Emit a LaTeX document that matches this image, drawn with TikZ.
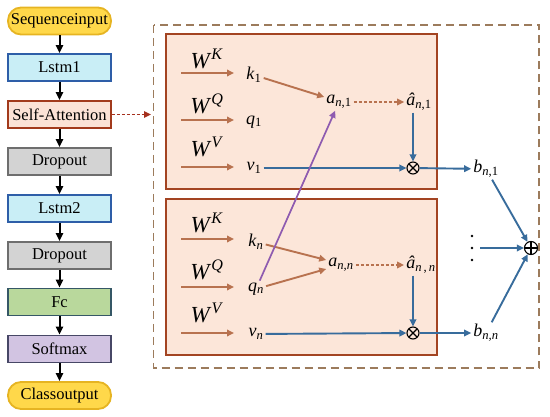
\documentclass[tikz,border=0pt]{standalone}
\usepackage{fontspec}
\setmainfont{Liberation Serif}
\usetikzlibrary{arrows.meta}
\definecolor{yfill}{HTML}{FFD84A}
\definecolor{ydraw}{HTML}{E6B422}
\definecolor{cfill}{HTML}{C9EEF6}
\definecolor{cdraw}{HTML}{2E5EA8}
\definecolor{pfill}{HTML}{FBE2D6}
\definecolor{pdraw}{HTML}{A23A1C}
\definecolor{gfill}{HTML}{D3D3D3}
\definecolor{gdraw}{HTML}{6E6E6E}
\definecolor{grfill}{HTML}{B9D89C}
\definecolor{grdraw}{HTML}{355766}
\definecolor{lfill}{HTML}{D2C4E2}
\definecolor{ldraw}{HTML}{474766}
\definecolor{boxfill}{HTML}{FCE6D9}
\definecolor{boxdraw}{HTML}{A34422}
\definecolor{outer}{HTML}{9C7B5C}
\definecolor{brn}{HTML}{B8724F}
\definecolor{blu}{HTML}{386C9C}
\definecolor{pur}{HTML}{8E5BB0}
\definecolor{dred}{HTML}{A5301E}
\begin{document}
\begin{tikzpicture}[x=1pt,y=-1pt,
  lbox/.style={draw, line width=1.8pt, minimum width=103pt, minimum height=27pt, inner sep=0pt, font=\fontsize{16.5}{17}\selectfont},
  term/.style={lbox, rounded corners=13pt, fill=yfill, draw=ydraw},
  blk/.style={-{Triangle[length=8pt,width=7pt]}, line width=2pt, black},
  barr/.style={-{Triangle[length=7pt,width=6.5pt]}, line width=1.9pt, brn},
  bluarr/.style={-{Triangle[length=7pt,width=6.5pt]}, line width=1.9pt, blu},
  dasharr/.style={brn, line width=1.7pt, dash pattern=on 3pt off 2pt, -{Triangle[length=7pt,width=6.5pt]}},
  lbl/.style={font=\fontsize{18}{19}\selectfont, inner sep=2pt},
  wlbl/.style={font=\fontsize{23}{24}\selectfont, inner sep=0pt},
  otim/.style={circle, draw, line width=1.1pt, minimum size=12pt, inner sep=0pt,
    path picture={\draw[line width=1.1pt] (path picture bounding box.north west) -- (path picture bounding box.south east)
      (path picture bounding box.north east) -- (path picture bounding box.south west);}},
  oplu/.style={circle, draw, line width=1.1pt, minimum size=13pt, inner sep=0pt,
    path picture={\draw[line width=1.1pt] (path picture bounding box.north) -- (path picture bounding box.south)
      (path picture bounding box.east) -- (path picture bounding box.west);}}
]
\useasboundingbox (0,0) rectangle (550,417);

% left column
\node[term] (seq) at (59.5,21) {Sequenceinput};
\node[lbox, fill=cfill, draw=cdraw] (l1) at (59.5,67.5) {Lstm1};
\node[lbox, fill=pfill, draw=pdraw] (sa) at (59.5,114.5) {Self-Attention};
\node[lbox, fill=gfill, draw=gdraw] (d1) at (59.5,161.5) {Dropout};
\node[lbox, fill=cfill, draw=cdraw] (l2) at (59.5,208.5) {Lstm2};
\node[lbox, fill=gfill, draw=gdraw] (d2) at (59.5,255.5) {Dropout};
\node[lbox, fill=grfill, draw=grdraw] (fc) at (59.5,302) {Fc};
\node[lbox, fill=lfill, draw=ldraw] (sm) at (59.5,349) {Softmax};
\node[term] (co) at (59.5,395.5) {Classoutput};
\draw[blk] (seq) -- (l1);
\draw[blk] (l1) -- (sa);
\draw[blk] (sa) -- (d1);
\draw[blk] (d1) -- (l2);
\draw[blk] (l2) -- (d2);
\draw[blk] (d2) -- (fc);
\draw[blk] (fc) -- (sm);
\draw[blk] (sm) -- (co);

% outer dashed box
\draw[outer, line width=1.9pt, dash pattern=on 8pt off 5pt] (153.5,25) rectangle (539,368);
\coordinate (outL) at (151,114.5);
\draw[dred, line width=1.5pt, dash pattern=on 3pt off 2pt, -{Triangle[length=7pt,width=6.5pt]}] (sa.east) -- (outL);

% inner boxes
\draw[boxdraw, fill=boxfill, line width=1.8pt] (166,34) rectangle (437,189);
\draw[boxdraw, fill=boxfill, line width=1.8pt] (166,199) rectangle (437,355);

% upper box
\node[wlbl] (wk1) at (207,59) {\textit{W}\textsuperscript{\textit{K}}};
\node[wlbl] (wq1) at (207,104) {\textit{W}\textsuperscript{\textit{Q}}};
\node[wlbl] (wv1) at (207,147) {\textit{W}\textsuperscript{\textit{V}}};
\node[lbl] (k1) at (254,75) {\textit{k}\textsubscript{1}};
\node[lbl] (q1) at (254,122) {\textit{q}\textsubscript{1}};
\node[lbl] (v1) at (254,168) {\textit{v}\textsubscript{1}};
\coordinate (sk1) at (181,73);
\coordinate (ek1) at (234,73);
\coordinate (sq1) at (181,120);
\coordinate (eq1) at (234,120);
\coordinate (sv1) at (181,167);
\coordinate (ev1) at (234,167);
\draw[barr] (sk1) -- (ek1);
\draw[barr] (sq1) -- (eq1);
\draw[barr] (sv1) -- (ev1);
\node[lbl] (a1) at (339,102) {\textit{a}\textsubscript{\textit{n},1}};
\node[lbl] (ha1) at (419,102) {\textit{â}\textsubscript{\textit{n},1}};
\node[otim] (ot1) at (413,168) {};
\draw[barr] (k1) -- ([yshift=5pt]a1.west);
\draw[dasharr] (a1) -- (ha1);
\draw[bluarr] (ha1.south -| ot1) -- (ot1);
\draw[bluarr] (v1) -- (ot1);

% lower box
\node[wlbl] (wk2) at (207,223) {\textit{W}\textsuperscript{\textit{K}}};
\node[wlbl] (wq2) at (207,270) {\textit{W}\textsuperscript{\textit{Q}}};
\node[wlbl] (wv2) at (207,313) {\textit{W}\textsuperscript{\textit{V}}};
\node[lbl] (kn) at (256,242) {\textit{k}\textsubscript{\textit{n}}};
\node[lbl] (qn) at (256,289) {\textit{q}\textsubscript{\textit{n}}};
\node[lbl] (vn) at (256,334) {\textit{v}\textsubscript{\textit{n}}};
\coordinate (sk2) at (181,239);
\coordinate (ek2) at (234,239);
\coordinate (sq2) at (181,287);
\coordinate (eq2) at (234,287);
\coordinate (sv2) at (181,333);
\coordinate (ev2) at (234,333);
\draw[barr] (sk2) -- (ek2);
\draw[barr] (sq2) -- (eq2);
\draw[barr] (sv2) -- (ev2);
\node[lbl] (an) at (341,265) {\textit{a}\textsubscript{\textit{n,n}}};
\node[lbl] (han) at (421,265) {\textit{â}\textsubscript{\textit{n}\,,\,\textit{n}}};
\node[otim] (ot2) at (413,333) {};
\draw[barr] (kn) -- ([yshift=5pt]an.west);
\draw[barr] (qn) -- ([yshift=-4pt]an.west);
\draw[dasharr] (an) -- (han);
\draw[bluarr] (han.south -| ot2) -- (ot2);
\draw[bluarr] (vn) -- (ot2);

% cross arrow
\draw[pur, line width=1.7pt, -{Triangle[length=7pt,width=6.5pt]}] (qn) -- (a1);

% outputs
\node[lbl] (b1) at (486,169) {\textit{b}\textsubscript{\textit{n},1}};
\node[lbl] (bn) at (486,333) {\textit{b}\textsubscript{\textit{n,n}}};
\node[oplu] (sum) at (531,248) {};
\draw[bluarr] (ot1) -- (b1);
\draw[bluarr] (ot2) -- (bn);
\draw[bluarr] (b1) -- (sum);
\draw[bluarr] (bn) -- (sum);
\fill (472,236) circle (1.4pt);
\fill (472,248) circle (1.4pt);
\fill (472,260) circle (1.4pt);
\coordinate (dots) at (480,248);
\draw[bluarr] (dots) -- (sum);
\end{tikzpicture}
\end{document}
